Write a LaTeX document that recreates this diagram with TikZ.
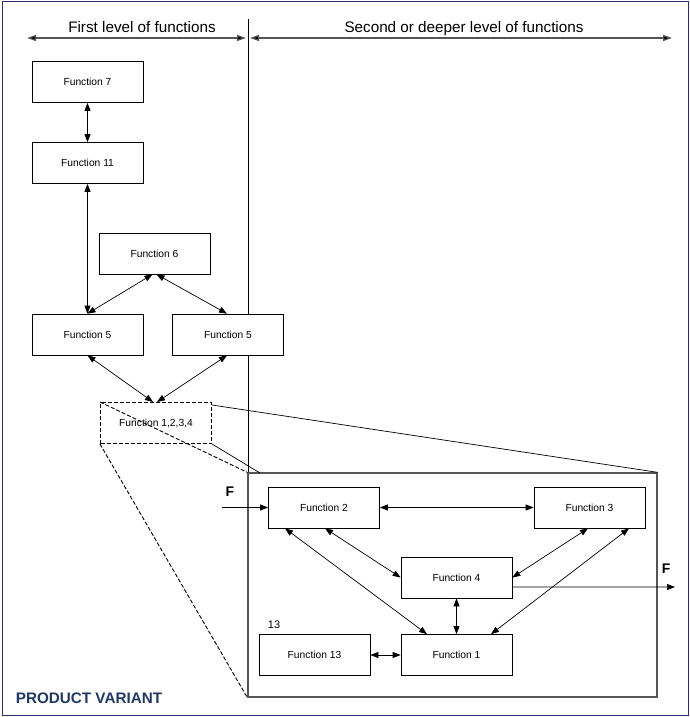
\documentclass[tikz,border=0pt]{standalone}
\usepackage{fontspec}
\setmainfont{Liberation Sans}
\usetikzlibrary{arrows.meta,calc}
\definecolor{framenavy}{RGB}{46,46,112}
\definecolor{titlenavy}{RGB}{31,56,100}
\definecolor{linegray}{RGB}{85,85,85}
\tikzset{
  fbox/.style={draw=black,fill=white,line width=0.7bp,minimum width=111bp,minimum height=41bp,inner sep=0pt,font=\fontsize{10.3}{12}\selectfont},
  dbox/.style={draw=black,dashed,dash pattern=on 4bp off 2bp,line width=1bp,minimum width=111bp,minimum height=41bp,inner sep=0pt,font=\fontsize{10.3}{12}\selectfont},
  conn/.style={line width=0.7bp,{Triangle[length=8bp,width=6bp]}-{Triangle[length=8bp,width=6bp]}},
  oneway/.style={line width=0.7bp,-{Triangle[length=8bp,width=6bp]}},
  hdr/.style={draw=linegray,line width=1.2bp,{Triangle[length=9bp,width=6bp,fill=black]}-{Triangle[length=9bp,width=6bp,fill=black]}},
  hdrtext/.style={anchor=base,font=\fontsize{15.3}{18}\selectfont,inner sep=0pt},
  zoomline/.style={line width=0.7bp},
  zoomdash/.style={line width=0.9bp,dashed,dash pattern=on 4bp off 2bp},
  lbl/.style={anchor=base,inner sep=0pt},
}
\begin{document}
\begin{tikzpicture}[x=1bp,y=-1bp]
\useasboundingbox (0,0) rectangle (690,717);
\draw[framenavy,line width=1.6bp] (2.5,1.5) rectangle (688.5,715.5);

% header
\coordinate (h1) at (27,38);
\coordinate (h2) at (246,38);
\coordinate (h3) at (250,38);
\coordinate (h4) at (672,38);
\coordinate (divtop) at (248,19);
\coordinate (divbot) at (248,473);
\draw[black,line width=0.8bp] (divtop) -- (divbot);
\draw[hdr] (h1) -- (h2);
\draw[hdr] (h3) -- (h4);
\node[hdrtext] (t1) at (142,33) {First level of functions};
\node[hdrtext] (t2) at (464,33) {Second or deeper level of functions};

% first level boxes
\node[fbox] (f7) at (87.5,82) {Function 7};
\node[fbox] (f11) at (87.5,163) {Function 11};
\node[fbox] (f6) at (154.5,253.5) {Function 6};
\node[fbox] (f5a) at (87.5,334.5) {Function 5};
\node[fbox] (f5b) at (228,334.5) {Function 5};
\node[dbox] (f1234) at (156,423) {Function 1,2,3,4};

% inset
\node[draw=linegray,line width=1.3bp,minimum width=409bp,minimum height=224bp,inner sep=0pt] (inset) at (452.5,585) {};

\node[fbox] (f2) at (324,507.5) {Function 2};
\node[fbox] (f3) at (589.5,507.5) {Function 3};
\node[fbox] (f4) at (456.5,577.5) {Function 4};
\node[fbox] (f1) at (456.5,655) {Function 1};
\node[fbox] (f13) at (314.5,655) {Function 13};

\node[lbl,font=\fontsize{11}{13}\selectfont] (l13) at (274,628) {13};
\node[lbl,font=\fontsize{14}{16}\bfseries\selectfont] (fin) at (230,496.7) {F};
\node[lbl,font=\fontsize{14}{16}\bfseries\selectfont] (fout) at (666,573.3) {F};
\node[lbl,font=\fontsize{15.3}{18}\bfseries\selectfont,text=titlenavy] (pv) at (89,703) {PRODUCT VARIANT};

% zoom lines
\coordinate (z1) at (260,473);
\draw[zoomdash] (f1234.north west) -- (inset.north west);
\draw[zoomdash] (f1234.south west) -- (inset.south west);
\draw[zoomline] ([yshift=-3bp]f1234.north east) -- (inset.north east);
\draw[zoomline] (f1234.south east) -- (z1);

% first level connectors
\draw[conn] (f7.south) -- (f11.north);
\draw[conn] (f11.south) -- (f5a.north);
\draw[conn] ([xshift=-2bp]f6.south) -- (f5a.north);
\draw[conn] ([xshift=2bp]f6.south) -- ([xshift=-1bp]f5b.north);
\draw[conn] (f5a.south) -- ([xshift=-3bp]f1234.north);
\draw[conn] ([xshift=-1bp]f5b.south) -- ([xshift=1bp]f1234.north);

% inset connectors
\coordinate (fsrc) at (222,507.5);
\coordinate (fdst) at (675,587);
\draw[oneway] (fsrc) -- (f2.west);
\draw[oneway] ([yshift=-9.5bp]f4.east) -- (fdst);
\draw[conn] (f2.east) -- (f3.west);
\draw[conn] ([xshift=-39bp]f2.south) -- ([xshift=-29.5bp]f1.north);
\draw[conn] ([xshift=1bp]f2.south) -- (f4.west);
\draw[conn] ([xshift=-1.5bp]f3.south) -- (f4.east);
\draw[conn] ([xshift=39.5bp]f3.south) -- ([xshift=34.5bp]f1.north);
\draw[conn] (f4.south) -- (f1.north);
\draw[conn] (f13.east) -- (f1.west);
\end{tikzpicture}
\end{document}
